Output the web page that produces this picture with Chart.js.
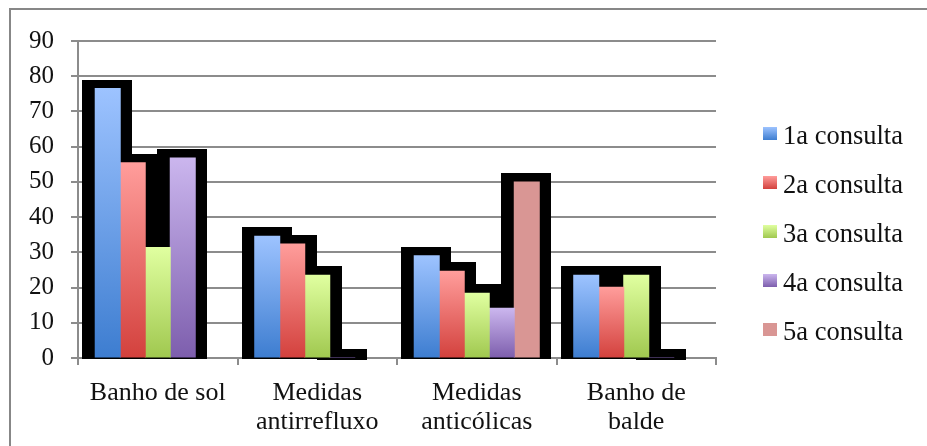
<!DOCTYPE html>
<html>
<head>
<meta charset="utf-8">
<script src="https://cdn.jsdelivr.net/npm/chart.js@4.4.1/dist/chart.umd.min.js"></script>
<style>
  html, body { margin: 0; padding: 0; background: #ffffff; }
  #wrap { width: 927px; height: 446px; position: relative; }
</style>
</head>
<body>
<div id="wrap"><canvas id="c" width="927" height="446"></canvas></div>
<script>
const categories = ['Banho de sol', ['Medidas', 'antirrefluxo'], ['Medidas', 'anticólicas'], ['Banho de', 'balde']];
const seriesNames = ['1a consulta', '2a consulta', '3a consulta', '4a consulta', '5a consulta'];
const consulta1 = [76.5, 34.6, 29.0, 23.5];
const consulta2 = [55.4, 32.4, 24.6, 20.1];
const consulta3 = [31.4, 23.5, 18.4, 23.5];
const consulta4 = [56.8, 0, 14.1, 0];
const consulta5 = [null, null, 50, null];
const yTicks = [0, 10, 20, 30, 40, 50, 60, 70, 80, 90];

const seriesValues = [consulta1, consulta2, consulta3, consulta4, consulta5];
// [top colour, bottom colour]
const seriesColors = [
  ['#9dc3ff', '#3d7dd0'],
  ['#ff9d9b', '#d3413d'],
  ['#e0ffa0', '#a0c84f'],
  ['#cbb6ee', '#7d5ead'],
  ['#d99694', '#d99694']
];

const FONT = "'Liberation Serif', 'Times New Roman', serif";

function barGradient(i) {
  return function (ctx) {
    const chart = ctx.chart;
    const c = seriesColors[i];
    if (!chart.chartArea || ctx.type !== 'data' || ctx.raw == null) return c[1];
    const ys = chart.scales.y;
    const top = ys.getPixelForValue(ctx.raw);
    const bot = ys.getPixelForValue(0);
    if (bot - top < 1) return c[1];
    const g = chart.ctx.createLinearGradient(0, top, 0, bot);
    g.addColorStop(0, c[0]);
    g.addColorStop(1, c[1]);
    return g;
  };
}

const shadowPlugin = {
  id: 'shadowPlugin',
  beforeDatasetsDraw(chart) {
    const ctx = chart.ctx;
    ctx.save();
    ctx.fillStyle = '#000000';
    chart.data.datasets.forEach((ds, di) => {
      const meta = chart.getDatasetMeta(di);
      meta.data.forEach((el, j) => {
        if (ds.data[j] == null) return;
        const w = el.width;
        const x0 = Math.round(el.x - w / 2 - 13);
        const x1 = Math.round(el.x + w / 2 + 12);
        const y0 = Math.round(el.y - 9);
        const y1 = Math.round(el.base + 2);
        ctx.fillRect(x0, y0, x1 - x0, y1 - y0);
      });
    });
    ctx.restore();
  }
};

const framePlugin = {
  id: 'framePlugin',
  beforeDraw(chart) {
    const ctx = chart.ctx;
    ctx.save();
    ctx.fillStyle = '#ffffff';
    ctx.fillRect(0, 0, chart.width, chart.height);
    ctx.strokeStyle = '#878787';
    ctx.lineWidth = 2;
    ctx.strokeRect(10, 9, 1200, 1200);
    ctx.restore();
  },
  afterDraw(chart) {
    const ctx = chart.ctx;
    ctx.save();
    const boxX = 763, textX = 783, top0 = 127, step = 49;
    ctx.font = '26.5px ' + FONT;
    ctx.textBaseline = 'alphabetic';
    ctx.textAlign = 'left';
    seriesNames.forEach((name, i) => {
      const y = top0 + i * step;
      const c = seriesColors[i];
      const g = ctx.createLinearGradient(0, y, 0, y + 13);
      g.addColorStop(0, c[0]);
      g.addColorStop(1, c[1]);
      ctx.fillStyle = g;
      ctx.fillRect(boxX, y, 14, 13);
      ctx.fillStyle = '#111111';
      ctx.fillText(name, textX, y + 16.5);
    });
    ctx.restore();
  }
};

new Chart(document.getElementById('c'), {
  type: 'bar',
  data: {
    labels: categories,
    datasets: seriesValues.map((vals, i) => ({
      label: seriesNames[i],
      data: vals,
      backgroundColor: barGradient(i),
      borderWidth: 0,
      borderSkipped: false,
      inflateAmount: 0.5,
      categoryPercentage: 0.784,
      barPercentage: 1.0
    }))
  },
  options: {
    responsive: false,
    animation: false,
    devicePixelRatio: 1,
    layout: { padding: { left: 0, top: 41, right: 211, bottom: 0 } },
    plugins: {
      legend: { display: false },
      tooltip: { enabled: false }
    },
    scales: {
      x: {
        offset: true,
        grid: {
          display: true,
          drawOnChartArea: false,
          drawTicks: true,
          tickLength: 7,
          color: '#8c8c8c',
          lineWidth: 2,
          offset: true
        },
        border: { display: true, color: '#8c8c8c', width: 2 },
        ticks: {
          color: '#111111',
          font: { family: FONT, size: 26, lineHeight: 1.13 },
          padding: 13,
          maxRotation: 0,
          autoSkip: false
        },
        afterFit(scale) { scale.height = 446 - 358; }
      },
      y: {
        min: 0,
        max: 90,
        afterBuildTicks(scale) { scale.ticks = yTicks.map(v => ({ value: v })); },
        grid: {
          color: '#8c8c8c',
          lineWidth: 2,
          drawTicks: true,
          tickLength: 7
        },
        border: { display: true, color: '#8c8c8c', width: 2 },
        ticks: {
          color: '#111111',
          font: { family: FONT, size: 25 },
          padding: 17
        },
        afterFit(scale) { scale.width = 78; }
      }
    }
  },
  plugins: [framePlugin, shadowPlugin]
});
</script>
</body>
</html>
